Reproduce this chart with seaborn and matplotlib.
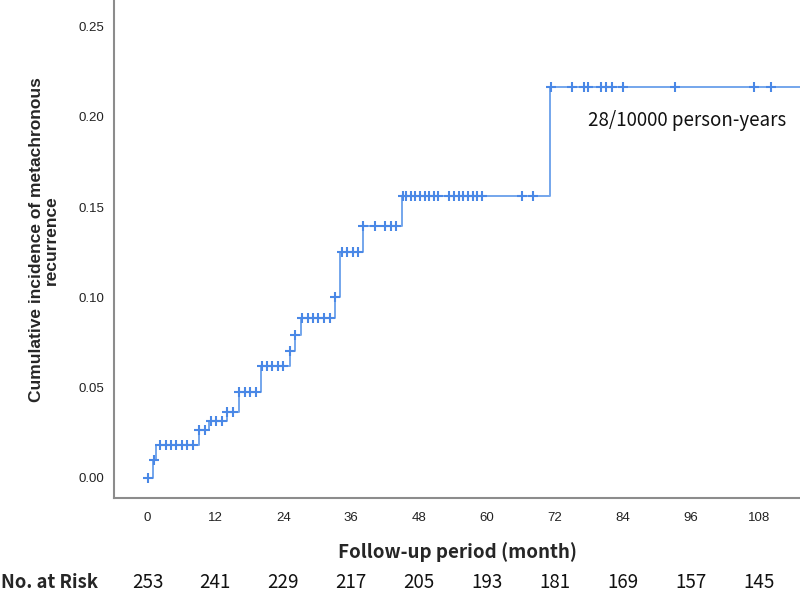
import numpy as np
import pandas as pd
import matplotlib
matplotlib.use('Agg')
import matplotlib.pyplot as plt
import matplotlib.transforms as mtransforms
import seaborn as sns

# Step curve: months where the cumulative incidence jumps, and the new level
event_months = [0, 1.0, 1.6, 9.05, 10.9, 14.0, 16.1, 20.1, 25.2, 26.1, 27.1,
                33.2, 34.0, 38.1, 45.0, 71.2]
cum_incidence = [0.0, 0.0097, 0.0182, 0.0267, 0.0315, 0.0367, 0.0478, 0.0622,
                 0.0704, 0.0791, 0.0889, 0.100, 0.125, 0.1394, 0.1561, 0.2167]
max_follow_up = 116

# Censored observations (months)
censor_months = [0.1, 1.1, 2.2, 3.2, 4.1, 5.1, 6.1, 7.0, 8.0, 9.2, 10.2, 11.2,
                 12.2, 13.2, 14.1, 15.1, 16.2, 17.2, 18.1, 19.1, 20.2, 21.1,
                 22.0, 23.0, 23.9, 25.2, 26.1, 27.3, 28.3, 29.2, 30.2, 31.2,
                 32.2, 33.2, 34.3, 35.3, 36.3, 37.2, 38.1, 40.2, 42.0, 43.0,
                 44.0, 45.1, 45.7, 46.5, 47.3, 48.2, 49.1, 49.8, 50.7, 51.3,
                 53.3, 54.2, 55.1, 55.8, 56.7, 57.5, 58.3, 59.2, 66.2, 68.1,
                 71.3, 75.1, 77.2, 77.8, 80.2, 81.1, 82.1, 84.1, 93.3, 107.1,
                 110.2]

tick_months = [0, 12, 24, 36, 48, 60, 72, 84, 96, 108]
at_risk = [253, 241, 229, 217, 205, 193, 181, 169, 157, 145]
rate_label = '28/10000 person-years'

sns.set_style('white')
plt.rcParams['font.family'] = ['Liberation Sans', 'DejaVu Sans']
kr_font = ['Noto Sans CJK KR', 'DejaVu Sans']

fig = plt.figure(figsize=(8, 5.95), dpi=100)
ax = fig.add_axes([0.1425, 0.163, 0.8575, 0.837])

line_color = '#74a6ec'
mark_color = '#4a88e6'

curve = pd.DataFrame({'month': event_months + [max_follow_up],
                      'incidence': cum_incidence + [cum_incidence[-1]]})
sns.lineplot(data=curve, x='month', y='incidence', drawstyle='steps-post',
             estimator=None, sort=False, color=line_color, linewidth=1.4, ax=ax)

idx = np.searchsorted(event_months, censor_months, side='right') - 1
censored = pd.DataFrame({'month': censor_months,
                         'incidence': np.array(cum_incidence)[idx]})
sns.scatterplot(data=censored, x='month', y='incidence', marker='+', s=55,
                linewidth=1.5, color=mark_color, ax=ax, zorder=3)

ax.set_xlim(-5.9, 115.3)
ax.set_ylim(-0.0111, 0.2648)
ax.set_xticks(tick_months)
ax.set_yticks(np.arange(0, 0.26, 0.05))
ax.set_yticklabels([f'{v:.2f}' for v in np.arange(0, 0.26, 0.05)])
ax.tick_params(length=0, labelsize=9.5, colors='#222222')
ax.tick_params(axis='x', pad=10)
ax.tick_params(axis='y', pad=7)

for side in ['top', 'right']:
    ax.spines[side].set_visible(False)
for side in ['left', 'bottom']:
    ax.spines[side].set_color('#8c8c8c')
    ax.spines[side].set_linewidth(1.5)

ax.set_ylabel('Cumulative incidence of metachronous\nrecurrence',
              fontsize=12.5, fontweight='bold', linespacing=1.05)
ax.yaxis.label.set_va('center')
ax.yaxis.set_label_coords(-0.102, 0.518)

ax.set_xlabel('Follow-up period (month)', fontsize=13.5, fontweight='bold',
              family=kr_font)
ax.xaxis.label.set_va('center')
ax.xaxis.set_label_coords(0.5, -0.108)

ax.text(77.8, 0.198, rate_label, fontsize=13.5, family=kr_font,
        va='center', ha='left', color='#111111')

trans = mtransforms.blended_transform_factory(ax.transData, ax.transAxes)
for m, n in zip(tick_months, at_risk):
    ax.text(m, -0.170, str(n), transform=trans, ha='center', va='center',
            fontsize=13.5, family=kr_font, color='#111111')
ax.text(-0.164, -0.170, 'No. at Risk', transform=ax.transAxes, ha='left',
        va='center', fontsize=13.3, fontweight='bold', family=kr_font)

fig.savefig('out.png', dpi=100)
